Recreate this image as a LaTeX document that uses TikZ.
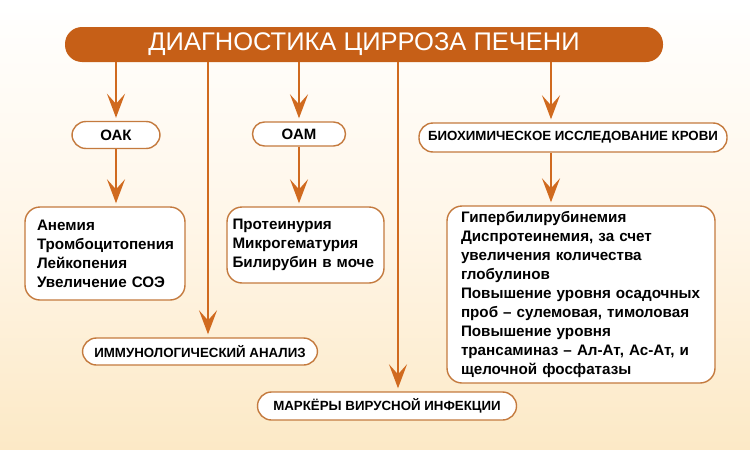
\documentclass[tikz,border=0pt]{standalone}
\usepackage{fontspec}
\setmainfont{Liberation Sans}
\usetikzlibrary{positioning,arrows.meta}
\definecolor{rust}{HTML}{C65F17}
\definecolor{arr}{HTML}{D06A1F}
\definecolor{edge}{HTML}{C47A3E}
\definecolor{creammid}{HTML}{FFF6E8}
\definecolor{creamlow}{HTML}{FCE9C6}

\begin{document}
\begin{tikzpicture}[x=1pt, y=-1pt,
  title/.style = {fill=rust, rounded corners=17pt, minimum width=598pt, minimum height=35pt, text=white, font=\fontsize{25.5}{29}\selectfont},
  pill/.style = {draw=edge, line width=1.4pt, fill=white, rounded corners=14pt, minimum height=27pt, inner xsep=6pt, font=\bfseries\fontsize{13.3}{15}\selectfont},
  list/.style = {draw=edge, line width=1.4pt, fill=white, rounded corners=15pt, align=left, font=\bfseries\fontsize{15.2}{19}\selectfont},
  arrow/.style = {draw=arr, line width=2.6pt, shorten >=3pt, -{Stealth[length=24pt, width=18pt, inset=10pt]}}]
  \useasboundingbox (0,0) rectangle (750,450);
  \shade[top color=white, bottom color=creamlow, middle color=creammid] (0,0) rectangle (750,450);
  \node[title] (diag) at (364,44.5) {ДИАГНОСТИКА ЦИРРОЗА ПЕЧЕНИ};
  \node[pill, minimum width=88pt, font=\bfseries\fontsize{15}{17}\selectfont] (oak) at (116,135) {ОАК};
  \node[pill, minimum width=93pt, minimum height=24pt, rounded corners=12pt, font=\bfseries\fontsize{15}{17}\selectfont] (oam) at (299,134) {ОАМ};
  \node[pill, minimum width=308pt, minimum height=29pt] (bio) at (573,137.5) {БИОХИМИЧЕСКОЕ ИССЛЕДОВАНИЕ КРОВИ};
  \node[pill, minimum width=235pt] (immun) at (200,351.5) {ИММУНОЛОГИЧЕСКИЙ АНАЛИЗ};
  \node[pill, minimum width=259pt, minimum height=28pt] (mark) at (387,406) {МАРКЁРЫ ВИРУСНОЙ ИНФЕКЦИИ};
  \node[list, inner xsep=12pt, minimum height=93pt, text width=136pt] (blood) at (105,253.5) {Анемия\\Тромбоцитопения\\Лейкопения\\Увеличение СОЭ};
  \node[list, inner xsep=5.5pt, minimum height=76pt, text width=146pt] (urine) at (305.5,245) {Протеинурия\\Микрогематурия\\Билирубин в моче};
  \node[list, inner xsep=14pt, minimum height=177pt, text width=240pt] (chem) at (581,294.5) {Гипербилирубинемия\\Диспротеинемия, за счет\\увеличения количества\\глобулинов\\Повышение уровня осадочных\\проб -- сулемовая, тимоловая\\Повышение уровня\\трансаминаз -- Ал-Ат, Ас-Ат, и\\щелочной фосфатазы};
  \draw[arrow] (oak |- diag.south) -- (oak.north);
  \draw[arrow] ([xshift=8pt]immun.north |- diag.south) -- ([xshift=8pt]immun.north);
  \draw[arrow] (oam |- diag.south) -- (oam.north);
  \draw[arrow] ([xshift=11pt]mark.north |- diag.south) -- ([xshift=11pt]mark.north);
  \draw[arrow] ([xshift=-22pt]bio.north |- diag.south) -- ([xshift=-22pt]bio.north);
  \draw[arrow] (oak.south) -- (oak.south |- blood.north);
  \draw[arrow] (oam.south) -- (oam.south |- urine.north);
  \draw[arrow] ([xshift=-22pt]bio.south) -- ([xshift=-22pt]bio.south |- chem.north);
\end{tikzpicture}
\end{document}
